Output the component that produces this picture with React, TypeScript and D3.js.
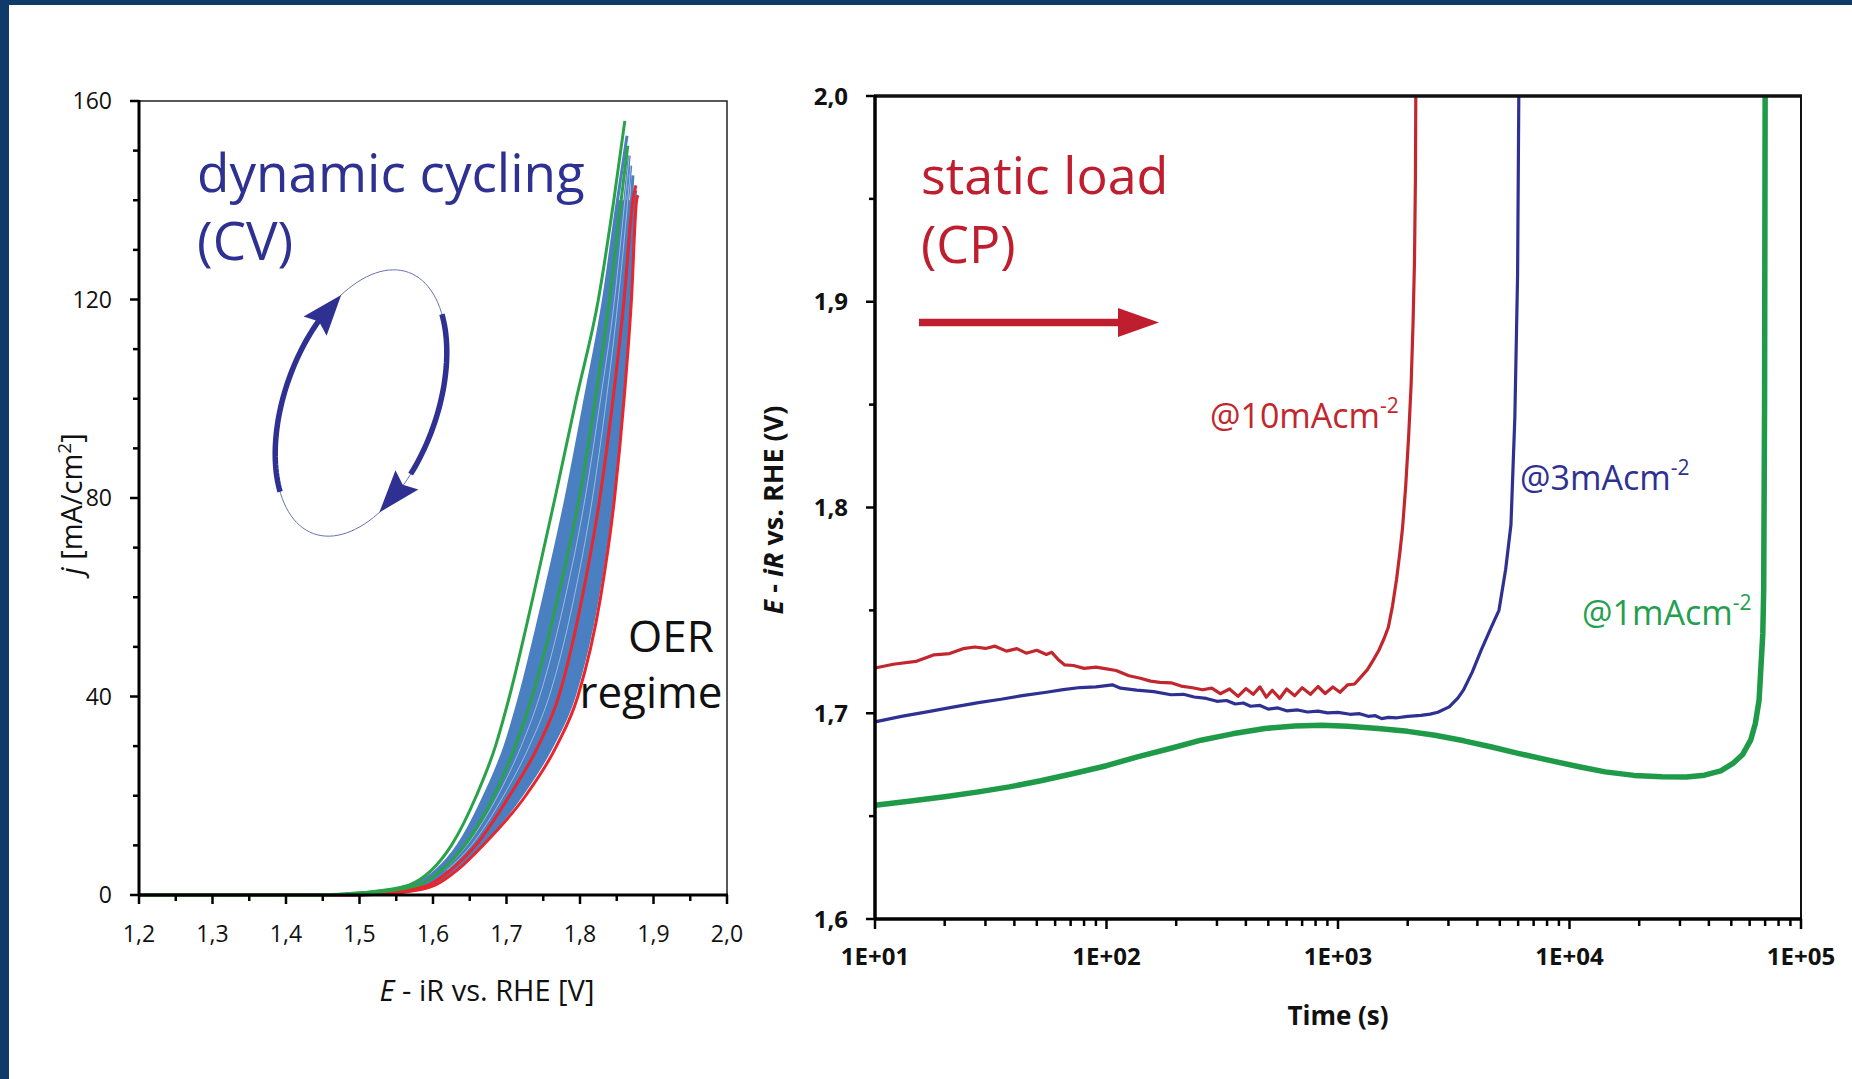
import { useEffect, useRef } from "react";
import * as d3 from "d3";

// ---- left panel: CV cycles, E (V) read at fixed current levels j (mA/cm2)
const CV_J = [0, 0.5, 2, 5, 10, 20, 30, 40, 60, 80, 100, 120, 140];
const CV_GREEN_OUTER = [1.44, 1.505, 1.567, 1.598, 1.625, 1.659, 1.685, 1.704, 1.736, 1.766, 1.795, 1.825, 1.846];
const CV_GREEN_INNER = [1.46, 1.52, 1.58, 1.612, 1.643, 1.683, 1.712, 1.735, 1.77, 1.799, 1.821, 1.84, 1.856];
const CV_BLUE_1 = [1.45, 1.51, 1.573, 1.605, 1.634, 1.67, 1.698, 1.718, 1.751, 1.781, 1.807, 1.832, 1.851];
const CV_BLUE_2 = [1.46, 1.52, 1.583, 1.615, 1.646, 1.688, 1.72, 1.745, 1.78, 1.807, 1.828, 1.847, 1.861];
const CV_BLUE_3 = [1.47, 1.528, 1.588, 1.619, 1.652, 1.696, 1.731, 1.758, 1.792, 1.817, 1.836, 1.852, 1.865];
const CV_BLUE_4 = [1.48, 1.535, 1.593, 1.624, 1.658, 1.706, 1.745, 1.774, 1.806, 1.829, 1.846, 1.86, 1.87];
const CV_BLUE_5 = [1.49, 1.545, 1.598, 1.628, 1.663, 1.714, 1.756, 1.786, 1.818, 1.839, 1.854, 1.866, 1.874];
const CV_BLUE_6 = [1.5, 1.552, 1.601, 1.63, 1.665, 1.72, 1.762, 1.792, 1.824, 1.844, 1.858, 1.869, 1.876];
const CV_RED_INNER = [1.49, 1.54, 1.594, 1.624, 1.658, 1.704, 1.743, 1.771, 1.803, 1.827, 1.845, 1.86, 1.872];
const CV_RED_OUTER = [1.5, 1.556, 1.603, 1.633, 1.668, 1.726, 1.768, 1.797, 1.828, 1.847, 1.86, 1.87, 1.877];
// vertex of each cycle [E, j]
const CV_PEAKS: Record<string, [number, number]> = {
  greenOuter: [1.861, 156],
  greenInner: [1.865, 151],
  blue1: [1.864, 153],
  blue2: [1.867, 149],
  blue3: [1.869, 147],
  blue4: [1.872, 145],
  blue5: [1.876, 142],
  blue6: [1.878, 141],
  redInner: [1.876, 143],
  redOuter: [1.879, 141],
};
const CV_X_TICKS = [1.2, 1.3, 1.4, 1.5, 1.6, 1.7, 1.8, 1.9, 2.0];
const CV_Y_TICKS = [0, 40, 80, 120, 160];

// ---- right panel: chronopotentiometry, time (s) vs E (V)
const CP_RED_T = [10, 12, 15, 18, 21, 24, 27, 30, 33, 37, 41, 45, 50, 55, 58, 62, 66, 72, 80, 90, 100, 110, 125, 140, 155, 170, 190, 210, 235, 260, 285, 310, 340, 370, 400, 430, 460, 490, 520, 560, 600, 650, 700, 760, 820, 880, 950, 1020, 1100, 1180, 1260, 1340, 1420, 1500, 1580, 1650, 1720, 1790, 1850, 1900, 1960, 2020, 2070, 2110, 2140, 2160, 2168];
const CP_RED_E = [1.722, 1.7238, 1.7252, 1.7284, 1.729, 1.7314, 1.7322, 1.7315, 1.7326, 1.7302, 1.7314, 1.7292, 1.7306, 1.7286, 1.7296, 1.726, 1.7235, 1.7232, 1.7218, 1.7224, 1.7216, 1.7208, 1.7182, 1.717, 1.7156, 1.715, 1.7148, 1.7132, 1.7124, 1.7114, 1.7122, 1.7095, 1.7118, 1.7082, 1.712, 1.7092, 1.7128, 1.7078, 1.7112, 1.7072, 1.7118, 1.7085, 1.7124, 1.7092, 1.713, 1.7096, 1.7128, 1.7102, 1.7138, 1.7142, 1.7178, 1.7212, 1.7258, 1.7305, 1.7362, 1.7418, 1.7522, 1.765, 1.778, 1.79, 1.81, 1.835, 1.86, 1.89, 1.92, 1.96, 2.0];
const CP_BLUE_T = [10, 13, 17, 22, 28, 35, 44, 55, 65, 77, 90, 106, 115, 135, 160, 190, 215, 239, 270, 300, 330, 360, 390, 419, 460, 500, 550, 600, 670, 738, 820, 900, 1000, 1127, 1240, 1350, 1450, 1545, 1650, 1800, 2000, 2280, 2500, 2700, 3023, 3300, 3480, 3800, 4150, 4600, 4957, 5300, 5586, 5806, 5967, 6040];
const CP_BLUE_E = [1.6958, 1.6985, 1.7008, 1.7031, 1.7052, 1.7068, 1.7087, 1.7102, 1.7115, 1.7125, 1.7128, 1.7138, 1.7122, 1.7112, 1.7105, 1.709, 1.7092, 1.7079, 1.7072, 1.7058, 1.7062, 1.7045, 1.705, 1.7034, 1.7038, 1.702, 1.7026, 1.7012, 1.7016, 1.7006, 1.701, 1.7002, 1.7004, 1.6995, 1.6998, 1.6985, 1.6988, 1.6974, 1.698, 1.6978, 1.6985, 1.699, 1.6996, 1.7005, 1.7031, 1.7075, 1.7112, 1.72, 1.7306, 1.742, 1.75, 1.77, 1.7916, 1.8437, 1.913, 2.0];
const CP_GREEN_T = [10, 14, 20, 28, 38, 52, 72, 100, 136, 190, 256, 350, 483, 650, 849, 1100, 1493, 2000, 2624, 3500, 4615, 6000, 8110, 11000, 14260, 19000, 25100, 32000, 38300, 45000, 50800, 56000, 60600, 63500, 65900, 68400, 69000, 69600, 70000];
const CP_GREEN_E = [1.6553, 1.6572, 1.6594, 1.6618, 1.6642, 1.6672, 1.6707, 1.6745, 1.6788, 1.683, 1.6869, 1.69, 1.6926, 1.6938, 1.6942, 1.6937, 1.6926, 1.6912, 1.6893, 1.6866, 1.6836, 1.6805, 1.6772, 1.674, 1.6715, 1.6698, 1.6691, 1.669, 1.6699, 1.672, 1.6756, 1.68, 1.6869, 1.695, 1.7063, 1.7388, 1.76, 1.85, 2.0];
const CP_Y_TICKS = [1.6, 1.7, 1.8, 1.9, 2.0];
const CP_X_TICKS = [1e1, 1e2, 1e3, 1e4, 1e5];
const CP_X_LABELS = ["1E+01", "1E+02", "1E+03", "1E+04", "1E+05"];

const SANS = "'Open Sans', 'Noto Sans', sans-serif";
const NAVY = "#2e3192";
const DARK_RED = "#be1e2d";

export default function App() {
  const ref = useRef<SVGSVGElement>(null);

  useEffect(() => {
    if (!ref.current) return;
    const svg = d3.select(ref.current);
    svg.selectAll("*").remove();

    svg.append("rect").attr("width", 1852).attr("height", 1079).attr("fill", "#0e3b69");
    svg.append("rect").attr("x", 9).attr("y", 5).attr("width", 1843).attr("height", 1074).attr("fill", "#fff");

    const comma = (v: number) => d3.format(".1f")(v).replace(".", ",");

    // ================= left panel =================
    const xL = d3.scaleLinear().domain([1.2, 2.0]).range([139, 727]);
    const yL = d3.scaleLinear().domain([0, 160]).range([895, 101]);
    const gL = svg.append("g");

    const toPts = (e: number[], peak: [number, number]) =>
      [[1.2, 0] as [number, number], ...CV_J.map((j, i) => [e[i], j] as [number, number]), peak];
    const cvLine = d3
      .line<[number, number]>()
      .x((d) => xL(d[0]))
      .y((d) => yL(d[1]))
      .curve(d3.curveMonotoneX);

    // blue band between first and last blue cycle
    const band = d3
      .area<number>()
      .y((i) => yL(CV_J[i]))
      .x0((i) => xL(CV_BLUE_1[i]))
      .x1((i) => xL(CV_BLUE_6[i]))
      .curve(d3.curveMonotoneY);
    gL.append("path").attr("d", band(d3.range(1, CV_J.length))!).attr("fill", "#4a7fc1");

    const blues: [number[], string][] = [
      [CV_BLUE_1, "blue1"],
      [CV_BLUE_2, "blue2"],
      [CV_BLUE_3, "blue3"],
      [CV_BLUE_4, "blue4"],
      [CV_BLUE_5, "blue5"],
      [CV_BLUE_6, "blue6"],
    ];
    blues.forEach(([e, k]) => {
      gL.append("path").attr("d", cvLine(toPts(e, CV_PEAKS[k]))!).attr("fill", "none").attr("stroke", "#4a7fc1").attr("stroke-width", 3);
    });
    // a few light gaps inside the band
    [CV_BLUE_2, CV_BLUE_3].forEach((e, i) => {
      gL.append("path")
        .attr("d", cvLine(toPts(e, CV_PEAKS[i ? "blue3" : "blue2"]).slice(4))!)
        .attr("fill", "none")
        .attr("stroke", "#dfe8f5")
        .attr("stroke-width", 0.8)
        .attr("opacity", 0.7);
    });
    gL.append("path").attr("d", cvLine(toPts(CV_RED_INNER, CV_PEAKS.redInner))!).attr("fill", "none").attr("stroke", "#e8262c").attr("stroke-width", 3);
    gL.append("path").attr("d", cvLine(toPts(CV_RED_OUTER, CV_PEAKS.redOuter))!).attr("fill", "none").attr("stroke", "#e8262c").attr("stroke-width", 3);
    gL.append("path").attr("d", cvLine(toPts(CV_GREEN_INNER, CV_PEAKS.greenInner))!).attr("fill", "none").attr("stroke", "#2aa24a").attr("stroke-width", 3);
    gL.append("path").attr("d", cvLine(toPts(CV_GREEN_OUTER, CV_PEAKS.greenOuter))!).attr("fill", "none").attr("stroke", "#2aa24a").attr("stroke-width", 3);

    // frame + axes
    gL.append("rect").attr("x", 139).attr("y", 101).attr("width", 588).attr("height", 794).attr("fill", "none").attr("stroke", "#222").attr("stroke-width", 1.5);
    gL.append("line").attr("x1", 139).attr("x2", 139).attr("y1", 100).attr("y2", 896).attr("stroke", "#000").attr("stroke-width", 3);
    gL.append("line").attr("x1", 138).attr("x2", 728).attr("y1", 895).attr("y2", 895).attr("stroke", "#000").attr("stroke-width", 3);

    d3.range(0, 161, 10).forEach((v) => {
      const major = v % 40 === 0;
      gL.append("line").attr("x1", 139).attr("x2", 139 - (major ? 9 : 6)).attr("y1", yL(v)).attr("y2", yL(v)).attr("stroke", "#000").attr("stroke-width", 2.5);
    });
    CV_Y_TICKS.forEach((v) => {
      gL.append("text").attr("x", 112).attr("y", yL(v)).attr("dy", "0.36em").attr("text-anchor", "end").attr("font-family", SANS).attr("font-size", 23).attr("fill", "#111").text(String(v));
    });
    d3.range(1.2, 2.001, 0.05).forEach((v) => {
      const major = Math.abs(v * 10 - Math.round(v * 10)) < 1e-6;
      gL.append("line").attr("x1", xL(v)).attr("x2", xL(v)).attr("y1", 895).attr("y2", 895 + (major ? 9 : 6)).attr("stroke", "#000").attr("stroke-width", 2.5);
    });
    CV_X_TICKS.forEach((v) => {
      gL.append("text").attr("x", xL(v)).attr("y", 942).attr("text-anchor", "middle").attr("font-family", SANS).attr("font-size", 23).attr("fill", "#111").text(comma(v));
    });

    const xLab = gL.append("text").attr("x", 487).attr("y", 1001).attr("text-anchor", "middle").attr("font-family", SANS).attr("font-size", 29).attr("fill", "#111");
    xLab.append("tspan").attr("font-style", "italic").text("E");
    xLab.append("tspan").text(" - iR vs. RHE [V]");

    const yLab = gL.append("text").attr("transform", "translate(82,504) rotate(-90)").attr("text-anchor", "middle").attr("font-family", SANS).attr("font-size", 29).attr("fill", "#111");
    yLab.append("tspan").attr("font-style", "italic").text("j");
    yLab.append("tspan").text(" [mA/cm");
    yLab.append("tspan").attr("font-size", 19).attr("dy", -11).text("2");
    yLab.append("tspan").attr("dy", 11).text("]");

    gL.append("text").attr("x", 197).attr("y", 192).attr("font-family", SANS).attr("font-size", 53).attr("fill", NAVY).text("dynamic cycling");
    gL.append("text").attr("x", 197).attr("y", 260).attr("font-family", SANS).attr("font-size", 53).attr("fill", NAVY).text("(CV)");
    gL.append("text").attr("x", 671).attr("y", 652).attr("text-anchor", "middle").attr("font-family", SANS).attr("font-size", 44).attr("fill", "#111").text("OER");
    gL.append("text").attr("x", 651).attr("y", 708).attr("text-anchor", "middle").attr("font-family", SANS).attr("font-size", 44).attr("fill", "#111").text("regime");

    // cycling loop symbol
    const c20 = Math.cos((20 * Math.PI) / 180);
    const s20 = Math.sin((20 * Math.PI) / 180);
    const ell = (t: number): [number, number] => {
      const r = (t * Math.PI) / 180;
      const bx = 76 * Math.cos(r);
      const ay = 139 * Math.sin(r);
      return [361 + bx * c20 + ay * s20, 403 + bx * s20 - ay * c20];
    };
    const plain = d3.line<[number, number]>();
    gL.append("path").attr("d", plain(d3.range(0, 361, 3).map(ell))!).attr("fill", "none").attr("stroke", "#6b72ad").attr("stroke-width", 1);
    const arcArrow = (from: number, to: number, tip: number, base: number) => {
      const step = from > to ? -2 : 2;
      const pts = d3.range(from, to + step / 2, step).map(ell);
      gL.append("path").attr("d", plain(pts)!).attr("fill", "none").attr("stroke", NAVY).attr("stroke-width", 5.5);
      const T = ell(tip);
      const B = ell(base);
      const dx = T[0] - B[0];
      const dy = T[1] - B[1];
      const L = Math.hypot(dx, dy);
      const nx = -dy / L;
      const ny = dx / L;
      const hw = 15;
      gL.append("path")
        .attr("d", `M${T[0]},${T[1]}L${B[0] + nx * hw},${B[1] + ny * hw}L${B[0] + dx * 0.15},${B[1] + dy * 0.15}L${B[0] - nx * hw},${B[1] - ny * hw}Z`)
        .attr("fill", NAVY);
    };
    arcArrow(233, 152, 137, 156);
    arcArrow(53, -22, -44, -24);

    // ================= right panel =================
    const xR = d3.scaleLog().domain([10, 1e5]).range([875, 1801]);
    const yR = d3.scaleLinear().domain([1.6, 2.0]).range([919, 96]);
    const gR = svg.append("g");

    const drawCP = (t: number[], e: number[], color: string, w: number) => {
      const l = d3
        .line<number>()
        .x((i) => xR(t[i]))
        .y((i) => yR(e[i]));
      gR.append("path").attr("d", l(d3.range(t.length))!).attr("fill", "none").attr("stroke", color).attr("stroke-width", w).attr("stroke-linejoin", "round");
    };
    drawCP(CP_GREEN_T, CP_GREEN_E, "#1f9a48", 5.5);
    drawCP(CP_BLUE_T, CP_BLUE_E, "#2e3192", 3.2);
    drawCP(CP_RED_T, CP_RED_E, "#c1272d", 3.2);

    gR.append("rect").attr("x", 875).attr("y", 96).attr("width", 926).attr("height", 823).attr("fill", "none").attr("stroke", "#111").attr("stroke-width", 2);
    gR.append("line").attr("x1", 874).attr("x2", 1802).attr("y1", 96).attr("y2", 96).attr("stroke", "#111").attr("stroke-width", 3.5);
    gR.append("line").attr("x1", 875).attr("x2", 875).attr("y1", 95).attr("y2", 920).attr("stroke", "#000").attr("stroke-width", 3.5);
    gR.append("line").attr("x1", 874).attr("x2", 1802).attr("y1", 919).attr("y2", 919).attr("stroke", "#000").attr("stroke-width", 3.5);

    d3.range(1.6, 2.001, 0.05).forEach((v) => {
      const major = Math.abs(v * 10 - Math.round(v * 10)) < 1e-6;
      gR.append("line").attr("x1", 875).attr("x2", 875 - (major ? 9 : 6)).attr("y1", yR(v)).attr("y2", yR(v)).attr("stroke", "#000").attr("stroke-width", 2.5);
    });
    CP_Y_TICKS.forEach((v) => {
      gR.append("text").attr("x", 848).attr("y", yR(v)).attr("dy", "0.36em").attr("text-anchor", "end").attr("font-family", SANS).attr("font-weight", 700).attr("font-size", 24).attr("fill", "#111").text(comma(v));
    });
    xR.ticks().forEach((v) => {
      const major = CP_X_TICKS.includes(v);
      gR.append("line").attr("x1", xR(v)).attr("x2", xR(v)).attr("y1", 919).attr("y2", 919 + (major ? 10 : 7)).attr("stroke", "#000").attr("stroke-width", 2.5);
    });
    CP_X_TICKS.forEach((v, i) => {
      gR.append("text").attr("x", xR(v)).attr("y", 965).attr("text-anchor", "middle").attr("font-family", SANS).attr("font-weight", 700).attr("font-size", 24).attr("fill", "#111").text(CP_X_LABELS[i]);
    });
    gR.append("text").attr("x", 1338).attr("y", 1025).attr("text-anchor", "middle").attr("font-family", SANS).attr("font-weight", 700).attr("font-size", 26).attr("fill", "#111").text("Time (s)");
    const yRLab = gR.append("text").attr("transform", "translate(783,510) rotate(-90)").attr("text-anchor", "middle").attr("font-family", SANS).attr("font-weight", 700).attr("font-size", 27).attr("fill", "#111");
    yRLab.append("tspan").attr("font-style", "italic").text("E");
    yRLab.append("tspan").text(" - ");
    yRLab.append("tspan").attr("font-style", "italic").text("iR");
    yRLab.append("tspan").text(" vs. RHE (V)");

    gR.append("text").attr("x", 921).attr("y", 194).attr("font-family", SANS).attr("font-size", 52).attr("fill", DARK_RED).text("static load");
    gR.append("text").attr("x", 921).attr("y", 263).attr("font-family", SANS).attr("font-size", 52).attr("fill", DARK_RED).text("(CP)");
    gR.append("line").attr("x1", 919).attr("x2", 1125).attr("y1", 322.5).attr("y2", 322.5).attr("stroke", DARK_RED).attr("stroke-width", 7.5);
    gR.append("path").attr("d", "M1118,308L1159,322.5L1118,337Z").attr("fill", DARK_RED);

    const annot = (x: number, y: number, main: string, color: string) => {
      const t = gR.append("text").attr("x", x).attr("y", y).attr("font-family", SANS).attr("font-size", 34).attr("fill", color);
      t.append("tspan").text(main);
      t.append("tspan").attr("font-size", 21).attr("dy", -15).text("-2");
    };
    annot(1210, 428, "@10mAcm", "#c1272d");
    annot(1520, 490, "@3mAcm", "#2e3192");
    annot(1582, 625, "@1mAcm", "#22a04e");
  }, []);

  return <svg ref={ref} width={1852} height={1079} style={{ position: "absolute", left: 0, top: 0, display: "block" }} />;
}
